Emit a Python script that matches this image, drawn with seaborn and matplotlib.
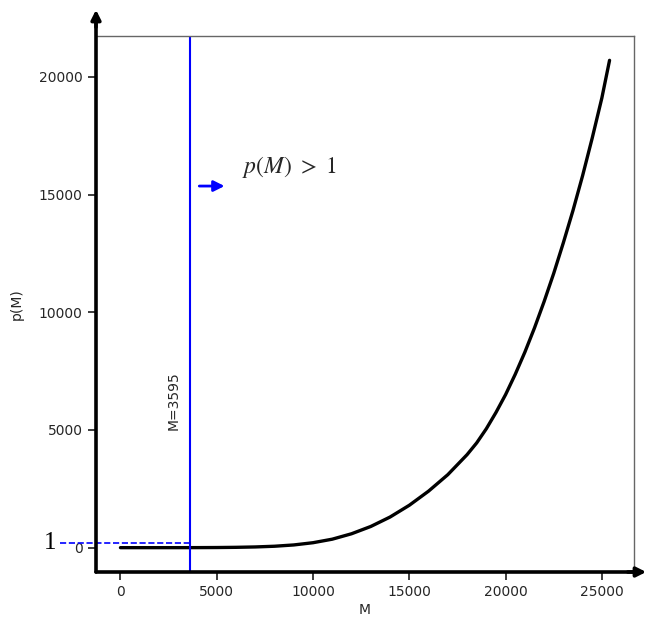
import seaborn as sns
import matplotlib.pyplot as plt
import pandas as pd

# values
M_values = [0, 1000, 2000, 3000, 4000, 5000, 6000, 7000, 8000, 9000, 10000,
            11000, 12000, 13000, 14000, 15000, 16000, 17000, 18000, 18500,
            19000, 19500, 20000, 20500, 21000, 21500, 22000, 22500, 23000,
            23500, 24000, 24500, 25000, 25400]
p_values = [0, 0, 0.05, 0.4, 1.7, 5.3, 14, 30, 60, 115, 210,
            360, 590, 900, 1300, 1800, 2400, 3100, 3950, 4450,
            5050, 5740, 6500, 7360, 8300, 9330, 10450, 11650, 12950,
            14320, 15800, 17400, 19100, 20700]
M_threshold = 3595
y_ticks = [0, 5000, 10000, 15000, 20000]
x_ticks = [0, 5000, 10000, 15000, 20000, 25000]

sns.set_theme(style="ticks")
plt.rcParams['mathtext.fontset'] = 'stix'

df = pd.DataFrame({'M': M_values, 'p(M)': p_values})

fig = plt.figure(figsize=(6.49, 6.17), dpi=100)
ax = fig.add_axes([0.1479, 0.0729, 0.829, 0.8688])
sns.lineplot(data=df, x='M', y='p(M)', color='black', linewidth=2.4, ax=ax)
ax.set_xlim(-1270, 26670)
ax.set_ylim(-1035, 21735)
ax.set_xticks(x_ticks)
ax.set_yticks(y_ticks)
ax.tick_params(labelsize=10)
ax.set_xlabel('M', fontsize=10, labelpad=3)
ax.set_ylabel('p(M)', fontsize=10, labelpad=11)

# threshold line and its label
ax.axvline(M_threshold, color='blue', linewidth=1.5)
ax.text(M_threshold - 450, 5000, 'M=%d' % M_threshold, rotation=90,
        ha='right', va='bottom', fontsize=10, color='.15')

# dashed line at p = 1, reaching out past the axis
ax.plot([-3150, M_threshold], [200, 200], color='blue', linestyle='--',
        linewidth=1.2, clip_on=False, scalex=False, scaley=False)
ax.text(-3350, 200, '1', ha='right', va='center', fontsize=18,
        family='Liberation Serif', color='black')

# arrow and condition text
ax.annotate('', xy=(5550, 15360), xytext=(3950, 15360),
            arrowprops=dict(arrowstyle='-|>', color='blue', lw=2,
                            mutation_scale=16))
ax.text(6300, 16150, r'$p(M)\ >\ 1$', fontsize=17, va='center', ha='left')

# heavy axes with arrows, light frame on top / right
for side in ['top', 'right']:
    ax.spines[side].set_color('0.4')
    ax.spines[side].set_linewidth(1.0)
for side in ['left', 'bottom']:
    ax.spines[side].set_visible(False)

fig.add_artist(plt.Line2D([96 / 649, 96 / 649], [1 - 572 / 617, 1 - 20 / 617],
                          color='black', linewidth=2.6, transform=fig.transFigure))
fig.add_artist(plt.Line2D([96 / 649, 638 / 649], [1 - 572 / 617, 1 - 572 / 617],
                          color='black', linewidth=2.6, transform=fig.transFigure))
ax.annotate('', xy=(96 / 649, 1 - 7 / 617), xytext=(96 / 649, 1 - 30 / 617),
            xycoords='figure fraction', textcoords='figure fraction',
            arrowprops=dict(arrowstyle='-|>', color='black', lw=2.6,
                            mutation_scale=14))
ax.annotate('', xy=(649 / 649, 1 - 572 / 617), xytext=(625 / 649, 1 - 572 / 617),
            xycoords='figure fraction', textcoords='figure fraction',
            arrowprops=dict(arrowstyle='-|>', color='black', lw=2.6,
                            mutation_scale=14))

fig.savefig('out.png', dpi=100)
